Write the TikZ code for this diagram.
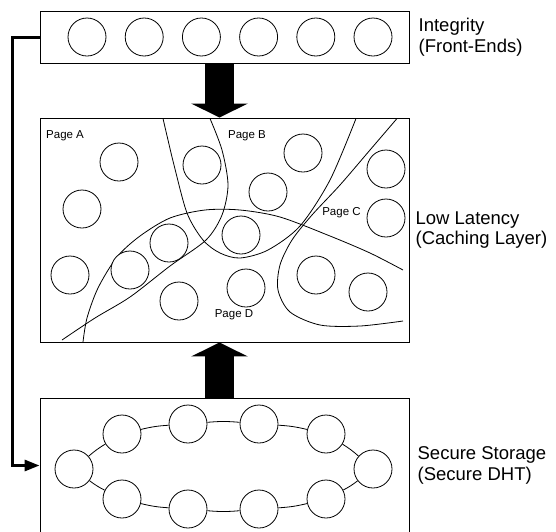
\documentclass[tikz,border=0pt]{standalone}
\usepackage{fontspec}
\setmainfont{Liberation Sans}
\usetikzlibrary{arrows.meta,positioning}

\begin{document}
\begin{tikzpicture}[
  x=1pt, y=-1pt,
  tier/.style={rectangle, draw, line width=0.9pt, minimum width=369pt, inner sep=0pt},
  peer/.style={circle, draw, line width=0.8pt, fill=white, minimum size=38pt, inner sep=0pt},
  sidelabel/.style={anchor=west, align=left, inner sep=0pt, font=\fontsize{18.5}{20.5}\selectfont},
  pagelabel/.style={inner sep=0pt, font=\fontsize{11.5}{13}\selectfont},
  boundary/.style={line width=0.8pt},
  link/.style={line width=0.8pt},
  bigarrow/.style={line width=29pt, -{Triangle[length=14pt,width=56pt]}},
  feed/.style={line width=3pt, -{Triangle[length=15pt,width=11pt]}}
]
\useasboundingbox (0,0) rectangle (556,531);

% the three tiers
\node[tier, minimum height=52pt] (front) at (224.5,37) {};
\node[tier, minimum height=224pt] (cache) at (224.5,230) {};
\node[tier, minimum height=135pt] (store) at (224.5,465.5) {};

\node[sidelabel] (frontlbl) at ([xshift=9pt]front.east) {Integrity\\(Front-Ends)};
\node[sidelabel] (cachelbl) at ([xshift=6pt]cache.east) {Low Latency\\(Caching Layer)};
\node[sidelabel] (storelbl) at ([xshift=8pt]store.east) {Secure Storage\\(Secure DHT)};

% front-end servers
\foreach \i in {1,...,6}
  \node[peer] (f\i) at ({29.8+57.2*\i},37) {};

% page boundaries in the cache
\draw[boundary] plot[smooth] coordinates {(163,118.5) (168,140) (174,165) (187,213) (203,240) (220,253) (240,258) (268,250) (300,226) (330,180) (356,118.5)};
\draw[boundary] plot[smooth] coordinates {(210,118.5) (222,150) (228,185) (222,215) (206,240) (170,266) (130,297) (95,318) (62,340)};
\draw[boundary] plot[smooth] coordinates {(83,342) (87,318) (98,288) (117,257) (140,236) (170,218) (205,210) (240,210) (280,217) (330,236) (370,253) (403,270)};
\draw[boundary] plot[smooth] coordinates {(397,118.5) (370,150) (340,185) (312,215) (292,240) (280,265) (278,290) (290,312) (320,325) (360,326) (403,321)};

\node[pagelabel, anchor=west] (pa) at (46,136) {Page A};
\node[pagelabel] (pb) at (247,136) {Page B};
\node[pagelabel] (pc) at (341.5,213) {Page C};
\node[pagelabel] (pd) at (234,315) {Page D};

% cache servers
\foreach \x/\y [count=\i] in {119/162, 82/209, 202/165, 303/153, 268/192, 386/169, 386/218,
    241/235, 169/243, 130/270, 70/275, 179/301, 246/288, 316/275, 368/292}
  \node[peer] (c\i) at (\x,\y) {};

% storage ring
\foreach \x/\y [count=\i from 0] in {74/469, 122/434, 188/424, 259/424, 326/434,
    373/469, 326/499, 259/509, 188/509, 122/499}
  \node[peer] (r\i) at (\x,\y) {};
\foreach \i [evaluate=\i as \j using {int(mod(\i+1,10))}] in {0,...,9}
  \draw[link] (r\i) to[bend left=5] (r\j);

% data flow
\draw[bigarrow] ([xshift=-5pt]front.south) -- ([xshift=-5pt]cache.north);
\draw[bigarrow] ([xshift=-5pt]store.north) -- ([xshift=-5pt]cache.south);
\draw[feed] (front.west) -- ++(-27,0) |- (store.west);
\end{tikzpicture}
\end{document}
